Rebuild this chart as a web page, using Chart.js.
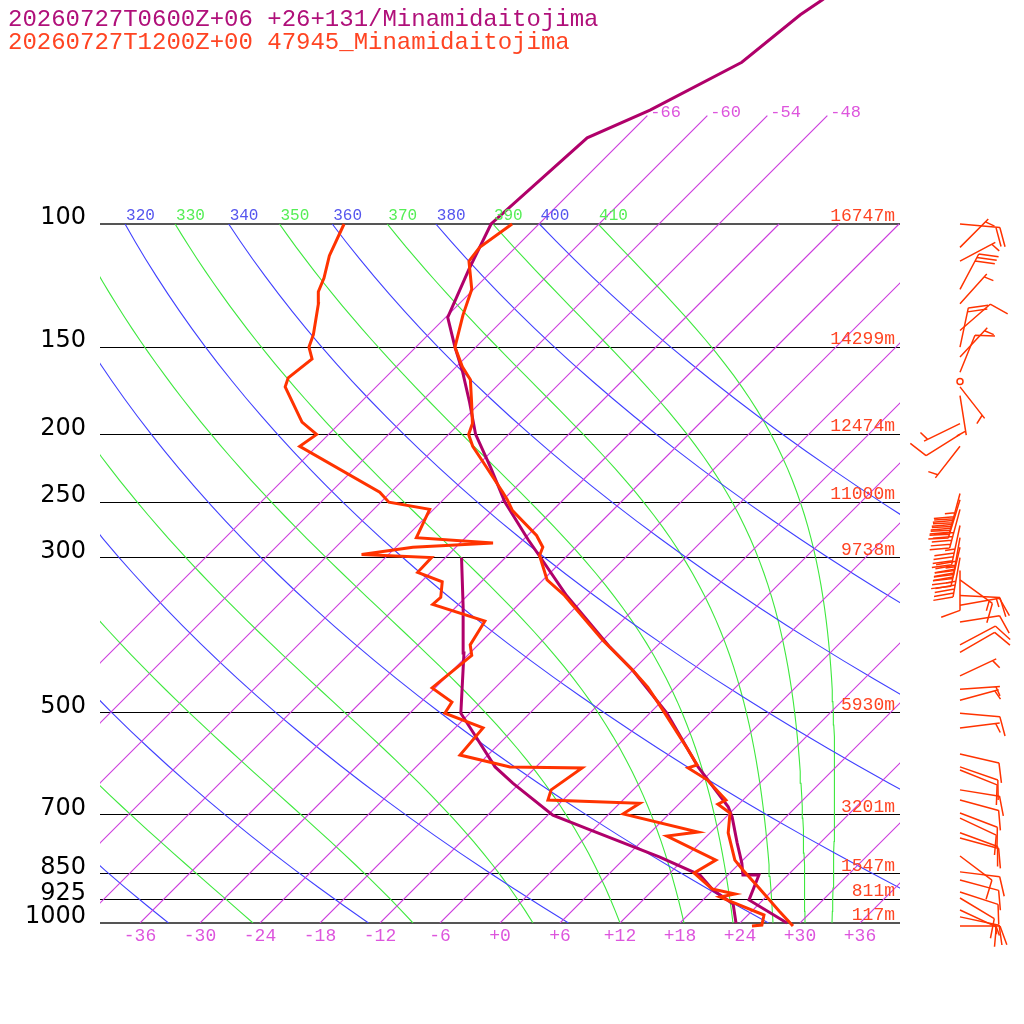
<!DOCTYPE html>
<html><head><meta charset="utf-8">
<script src="https://cdn.jsdelivr.net/npm/chart.js@4.4.1/dist/chart.umd.min.js"></script>
<style>html,body{margin:0;padding:0;background:#fff;}</style>
</head><body>
<canvas id="c" width="1024" height="1024"></canvas>
<script>
// ---------- texts ----------
const titleModel = "20260727T0600Z+06 +26+131/Minamidaitojima";
const titleObs = "20260727T1200Z+00 47945_Minamidaitojima";

// ---------- axes / reference grid ----------
const levelP = [100, 150, 200, 250, 300, 500, 700, 850, 925, 1000];
const levelHeight = ["16747m", "14299m", "12474m", "11000m", "9738m", "5930m", "3201m", "1547m", "811m", "117m"];
const xTicks = [-36, -30, -24, -18, -12, -6, 0, 6, 12, 18, 24, 30, 36];
const isotherms = [-66, -60, -54, -48, -42, -36, -30, -24, -18, -12, -6, 0, 6, 12, 18, 24, 30, 36];
const labeledIsotherms = [-66, -60, -54, -48];
const dryTheta = [240, 260, 280, 300, 320, 340, 360, 380, 400];
const moistTheta = [250, 270, 290, 310, 330, 350, 370, 390, 410];
const moistT1000 = [-24.7, -8.7, 3.3, 12.0, 18.4, 23.3, 27.3, 30.5, 33.2];

// ---------- observed sounding 47945 (red) ----------
const obsP = [1010, 961, 891, 840, 813, 743, 696, 676, 667, 624, 600, 594, 562, 496, 460, 435, 394, 340, 323, 298, 290, 279, 257, 248, 242, 219, 208, 200, 193, 180, 167, 160, 150, 135, 124, 113, 108, 100];
const obsT = [29.6, 26.7, 22.4, 19.0, 17.2, 13.8, 12.0, 9.9, 10.3, 6.4, 3.3, 3.9, 1.2, -5.0, -8.8, -12.0, -18.0, -26.3, -29.6, -32.8, -33.3, -35.1, -40.0, -41.6, -42.8, -47.8, -50.4, -52.0, -52.7, -54.9, -57.3, -59.4, -62.1, -64.5, -66.2, -69.3, -69.6, -68.7];
const obsTdP = [1010, 1007, 974, 918, 909, 894, 848, 813, 751, 741, 698, 674, 667, 645, 600, 598, 575, 526, 501, 483, 461, 414, 400, 370, 350, 342, 325, 315, 300, 297, 290, 286, 281, 256, 250, 242, 208, 200, 192, 171, 166, 156, 150, 144, 130, 125, 119.5, 111, 100];
const obsTd = [25.5, 26.4, 25.6, 19.4, 20.6, 17.8, 14.4, 15.3, 8.0, 10.7, 1.4, 2.0, -7.5, -8.2, -7.3, -14.6, -20.8, -21.2, -26.5, -26.9, -30.3, -29.6, -30.8, -31.7, -38.6, -38.5, -39.9, -43.3, -43.4, -50.7, -46.3, -38.7, -46.9, -48.4, -53.2, -55.1, -67.7, -67.2, -69.9, -75.1, -75.7, -75.2, -76.7, -77.5, -80.1, -81.3, -82.1, -83.8, -85.5];

// ---------- model sounding +26+131 (purple) ----------
const modP = [1000, 927, 854, 854, 821, 768, 705, 682, 598, 501, 435, 403, 340, 300, 283, 250, 223, 200, 180, 163, 150, 136, 116, 100, 75.3, 68.7, 58.7, 50.2, 47.8, 45];
const modT = [28.7, 22.6, 21.1, 19.5, 18.2, 15.7, 12.6, 11.2, 4.2, -4.3, -12.0, -16.6, -26.1, -32.5, -35.5, -41.6, -46.5, -51.3, -55.1, -58.8, -62.1, -65.8, -68.5, -70.8, -69.8, -66.3, -61.9, -60.8, -60.1, -59.3];
const modTdP = [1000, 939, 897, 854, 805, 736, 701, 631, 598, 530, 501, 411, 353, 300];
const modTd = [23.6, 21.4, 18.0, 15.2, 9.4, -0.3, -5.5, -12.7, -16.1, -22.1, -24.9, -30.6, -35.3, -40.4];

// ---------- winds (observed) ----------
const windP = [100, 108, 113, 124, 130, 142, 150, 155, 163, 168, 171, 176, 193, 200, 208, 243, 248, 256, 270, 281, 290, 300, 313, 323, 340, 351, 371, 400, 410, 443, 463, 480, 501, 526, 573, 598, 604, 645, 667, 696, 708, 743, 756, 802, 845, 868, 903, 921, 958, 980, 1010];
const windDir = [95, 45, 62, 28, 42, 49, 12, 43, 22, 0, 142, 171, 244, 238, 218, 195, 197, 195, 192, 190, 193, 190, 180, 126, 93, 80, 81, 62, 60, 65, 86, 75, 95, 83, 103, 109, 112, 99, 105, 111, 115, 110, 105, 127, 97, 105, 108, 121, 115, 102, 90];
const windSpd = [20, 5, 5, 30, 5, 10, 20, 5, 10, 0, 5, 5, 5, 10, 5, 55, 60, 50, 45, 50, 55, 45, 10, 15, 15, 10, 10, 10, 10, 5, 5, 5, 10, 5, 10, 10, 10, 10, 10, 10, 10, 10, 10, 10, 10, 10, 10, 10, 10, 15, 15];

// ---------- colours ----------
const C_MODEL = '#b0006a', C_OBS = '#ff3300';
const C_ISO = '#cc3ddd', C_ISO_TXT = '#dd55dd';
const C_DRY = '#4040ff', C_DRY_TXT = '#5555ee';
const C_MOIST = '#3ee83e', C_MOIST_TXT = '#55ee55';

// ---------- skew-T helpers ----------
const SKEW = 30.36; // degrees of x per unit ln(p)
function skewX(T, p) { return T + SKEW * Math.log(1000 / p); }
function pairs(P, T) { return P.map((p, i) => ({ x: skewX(T[i], p), y: p })); }
function dryLine(theta) {
  const pts = [];
  for (let i = 0; i <= 40; i++) {
    const p = 1000 * Math.pow(0.1, i / 40);
    const T = theta * Math.pow(p / 1000, 0.2857) - 273.15;
    pts.push({ x: skewX(T, p), y: p });
  }
  return pts;
}
function moistRate(T, lp) {
  const p = Math.exp(lp), tc = T - 273.15;
  const es = 6.112 * Math.exp(17.67 * tc / (tc + 243.5));
  const rs = 0.622 * es / (p - es);
  const Lv = 2.501e6, Rd = 287.04, cp = 1005.7;
  return (Rd * T + Lv * rs) / (cp + Lv * Lv * rs * 0.622 / (Rd * T * T));
}
function moistLine(T0) {
  const pts = [];
  let T = T0 + 273.15, lp = Math.log(1000);
  const n = 300, h = (Math.log(100) - lp) / n;
  for (let i = 0; i <= n; i++) {
    const p = Math.exp(lp);
    if (i % 5 === 0) pts.push({ x: skewX(T - 273.15, p), y: p });
    const k1 = moistRate(T, lp), k2 = moistRate(T + h * k1, lp + h);
    T += h * (k1 + k2) / 2; lp += h;
  }
  return pts;
}

const datasets = [];
datasets.push({ data: pairs(obsP, obsT), borderColor: C_OBS, borderWidth: 3, order: 1, clip: false });
datasets.push({ data: pairs(obsTdP, obsTd), borderColor: C_OBS, borderWidth: 3, order: 1, clip: false });
datasets.push({ data: pairs(modP, modT), borderColor: C_MODEL, borderWidth: 3, order: 2, clip: false });
datasets.push({ data: pairs(modTdP, modTd), borderColor: C_MODEL, borderWidth: 3, order: 2, clip: false });
isotherms.forEach(T => {
  const top = labeledIsotherms.includes(T) ? 70 : 100;
  datasets.push({ data: [{ x: skewX(T, 1000), y: 1000 }, { x: skewX(T, top), y: top }], borderColor: C_ISO, borderWidth: 1.1, order: 10, clip: { left: 0, right: 0, bottom: 0, top: false } });
});
dryTheta.forEach(th => datasets.push({ data: dryLine(th), borderColor: C_DRY, borderWidth: 1.1, order: 10 }));
const moistLines = moistT1000.map(t => moistLine(t));
moistLines.forEach(pts => datasets.push({ data: pts, borderColor: C_MOIST, borderWidth: 1.1, order: 10 }));
datasets.forEach(d => { d.showLine = true; d.pointRadius = 0; d.tension = 0; d.fill = false; });

function drawBarb(ctx, bx, by, dir, spd) {
  ctx.save();
  ctx.strokeStyle = C_OBS; ctx.lineWidth = 1.5;
  ctx.beginPath();
  if (spd < 2.5) {
    ctx.arc(bx, by, 3, 0, 2 * Math.PI);
    ctx.stroke(); ctx.restore(); return;
  }
  const a = dir * Math.PI / 180, ux = Math.sin(a), uy = -Math.cos(a);
  const L = 40, tx = bx + ux * L, ty = by + uy * L;
  ctx.moveTo(bx, by); ctx.lineTo(tx, ty);
  const lean = 20 * Math.PI / 180, c = Math.cos(lean), s = Math.sin(lean);
  const fx = -uy * c + ux * s, fy = ux * c + uy * s;
  let rem = Math.round(spd / 5) * 5, pos = 0;
  while (rem >= 10) {
    const sx = tx - ux * pos, sy = ty - uy * pos;
    ctx.moveTo(sx, sy); ctx.lineTo(sx + fx * 20, sy + fy * 20);
    pos += 4; rem -= 10;
  }
  if (rem >= 5) {
    if (pos === 0) pos = 4;
    const sx = tx - ux * pos, sy = ty - uy * pos;
    ctx.moveTo(sx, sy); ctx.lineTo(sx + fx * 10, sy + fy * 10);
  }
  ctx.stroke(); ctx.restore();
}

const overlay = {
  id: 'overlay',
  afterDatasetsDraw(chart) {
    const { ctx, chartArea: a, scales: { x, y } } = chart;
    ctx.save();
    // wind barbs column
    const bx = x.getPixelForValue(46);
    windP.forEach((p, i) => drawBarb(ctx, bx, y.getPixelForValue(p), windDir[i], windSpd[i]));
    // height labels
    ctx.font = '18px "Liberation Mono"';
    ctx.fillStyle = '#ff4422'; ctx.textAlign = 'right'; ctx.textBaseline = 'alphabetic';
    levelP.forEach((p, i) => ctx.fillText(levelHeight[i], a.right - 5, y.getPixelForValue(p) - 3));
    // isotherm labels
    ctx.font = '17px "Liberation Mono"'; ctx.fillStyle = C_ISO_TXT; ctx.textAlign = 'left';
    labeledIsotherms.forEach(T => {
      ctx.fillText(String(T), x.getPixelForValue(skewX(T, 70)) + 3, y.getPixelForValue(70) + 1);
    });
    // theta labels at 100 hPa (clipped to plot width)
    ctx.save();
    ctx.beginPath(); ctx.rect(a.left, 0, a.right - a.left, a.top); ctx.clip();
    ctx.font = '16px "Liberation Mono"';
    const ty = a.top - 4;
    dryTheta.forEach(th => {
      const T = th * Math.pow(0.1, 0.2857) - 273.15;
      ctx.fillStyle = C_DRY_TXT;
      ctx.fillText(String(th), x.getPixelForValue(skewX(T, 100)) + 1, ty);
    });
    moistTheta.forEach((th, i) => {
      const pts = moistLines[i], last = pts[pts.length - 1];
      ctx.fillStyle = C_MOIST_TXT;
      ctx.fillText(String(th), x.getPixelForValue(last.x) + 1, ty);
    });
    ctx.restore();
    // titles
    ctx.font = '24px "Liberation Mono"'; ctx.textAlign = 'left';
    ctx.fillStyle = '#b0107a'; ctx.fillText(titleModel, 8, 26);
    ctx.fillStyle = '#ff4422'; ctx.fillText(titleObs, 8, 49);
    ctx.restore();
  }
};

const isEdge = c => c.tick && (c.tick.value === 100 || c.tick.value === 1000);

new Chart(document.getElementById('c'), {
  type: 'scatter',
  data: { datasets },
  plugins: [overlay],
  options: {
    responsive: false, animation: false, events: [], devicePixelRatio: 1,
    layout: { padding: { left: 0, right: 124, top: 224, bottom: 0 } },
    plugins: { legend: { display: false }, tooltip: { enabled: false }, title: { display: false } },
    scales: {
      x: {
        type: 'linear', min: -40, max: 40,
        grid: { display: false, drawTicks: false }, border: { display: false },
        afterBuildTicks: s => { s.ticks = xTicks.map(v => ({ value: v })); },
        afterFit: s => { s.height = 101; },
        ticks: {
          color: C_ISO_TXT, font: { family: 'Liberation Mono', size: 18 }, padding: 2,
          maxRotation: 0, autoSkip: false,
          callback: v => (v >= 0 ? '+' : '') + v
        }
      },
      y: {
        type: 'logarithmic', reverse: true, min: 100, max: 1000, position: 'left',
        grid: { color: c => isEdge(c) ? '#555' : '#000', lineWidth: c => isEdge(c) ? 2 : 1, drawTicks: false },
        border: { display: false },
        afterBuildTicks: s => { s.ticks = levelP.map(v => ({ value: v })); },
        afterFit: s => { s.width = 100; },
        ticks: {
          color: '#000', font: { family: 'DejaVu Sans', size: 24 }, padding: 14,
          labelOffset: -6, autoSkip: false, callback: v => String(v)
        }
      }
    }
  }
});
</script>
</body></html>
